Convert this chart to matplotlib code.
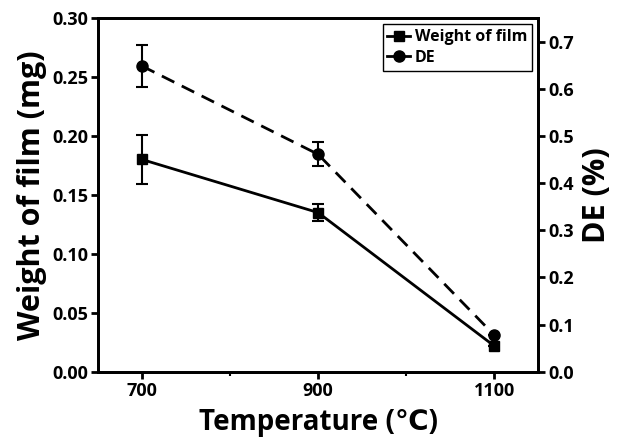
import matplotlib
matplotlib.use("Agg")
from matplotlib import pyplot as plt
from matplotlib.lines import Line2D

plt.rcParams['font.family'] = ['Open Sans', 'DejaVu Sans']
plt.rcParams['font.weight'] = 'bold'

temperature = [700, 900, 1100]
weight = [0.180, 0.135, 0.022]
weight_err = [0.021, 0.007, 0.0]
de = [0.648, 0.461, 0.078]
de_err = [0.045, 0.025, 0.0]

fig = plt.figure(figsize=(6.28, 4.48), dpi=100)
ax = fig.add_axes([0.156, 0.170, 0.701, 0.790])
ax2 = ax.twinx()

ax.errorbar(temperature, weight, yerr=weight_err, color='black', lw=2,
            marker='s', ms=7, capsize=4, elinewidth=1.5, capthick=1.5)
ax2.errorbar(temperature, de, yerr=de_err, color='black', lw=2, ls=(0, (5, 3)),
             marker='o', ms=8, capsize=4, elinewidth=1.5, capthick=1.5)

ax.set_xlim(650, 1150)
ax.set_ylim(0, 0.30)
ax2.set_ylim(0, 0.75)
ax.set_xticks([700, 900, 1100])
ax.set_xticks([800, 1000], minor=True)
ax.set_yticks([0, 0.05, 0.10, 0.15, 0.20, 0.25, 0.30])
ax.set_yticklabels(['0.00', '0.05', '0.10', '0.15', '0.20', '0.25', '0.30'])
ax2.set_yticks([0, 0.1, 0.2, 0.3, 0.4, 0.5, 0.6, 0.7])

for a in (ax, ax2):
    for s in a.spines.values():
        s.set_linewidth(2)
    a.tick_params(width=2, length=5, labelsize=13, pad=2)
    a.tick_params(which='minor', width=1.5, length=3)

ax.set_xlabel('Temperature (℃)', fontsize=20, fontweight='bold', labelpad=6)
ax.set_ylabel('Weight of film (mg)', fontsize=22, fontweight='bold', labelpad=4)
ax2.set_ylabel('DE (%)', fontsize=22, fontweight='bold', labelpad=6)

handles = [Line2D([], [], color='black', lw=2, marker='s', ms=7),
           Line2D([], [], color='black', lw=2, marker='o', ms=8)]
leg = ax.legend(handles, ['Weight of film', 'DE'], loc='upper right', fontsize=11.5,
                fancybox=False, edgecolor='black', handlelength=1.4,
                handletextpad=0.3, borderaxespad=0.4, framealpha=1,
                borderpad=0.3, labelspacing=0.3)
leg.get_frame().set_linewidth(1)

fig.savefig('out.png', dpi=100)
